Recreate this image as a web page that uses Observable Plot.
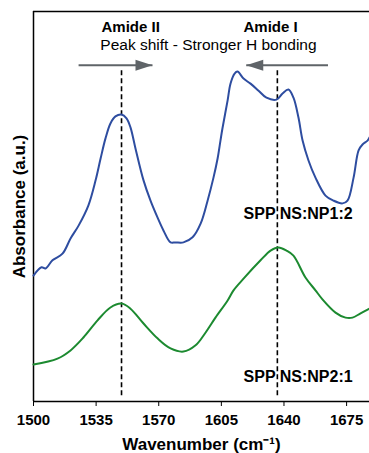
<!DOCTYPE html>
<html><head><meta charset="utf-8">
<script src="https://cdn.jsdelivr.net/npm/d3@7"></script>
<script src="https://cdn.jsdelivr.net/npm/@observablehq/plot@0.6"></script>
<style>body{margin:0;background:#fff}</style>
</head><body><div id="chart"></div>
<script>
// SPP NS:NP1:2 (blue)
const blueWn = [1500.0,1504.5,1506.7,1510.6,1516.2,1520.7,1525.2,1530.7,1534.7,1537.5,1540.2,1543.0,1545.8,1549.2,1552.0,1554.2,1557.0,1561.5,1565.4,1569.3,1572.7,1576.6,1579.4,1583.8,1588.9,1593.4,1597.3,1600.6,1602.9,1604.5,1605.6,1608.5,1610.1,1612.4,1614.0,1617.4,1621.3,1625.8,1630.2,1635.8,1639.2,1642.5,1645.3,1648.1,1650.4,1653.7,1657.6,1663.2,1667.7,1672.7,1675.5,1678.9,1681.7,1683.9,1686.7,1687.8];
const blueAbs = [0.323,0.344,0.341,0.362,0.379,0.418,0.451,0.503,0.567,0.623,0.674,0.713,0.731,0.736,0.726,0.703,0.649,0.567,0.515,0.472,0.438,0.408,0.408,0.408,0.421,0.456,0.515,0.574,0.623,0.669,0.700,0.772,0.815,0.841,0.846,0.828,0.815,0.797,0.779,0.774,0.790,0.800,0.779,0.728,0.669,0.618,0.574,0.528,0.515,0.508,0.515,0.574,0.644,0.659,0.669,0.677];
// SPP NS:NP2:1 (green)
const greenWn = [1500.0,1513.4,1520.7,1527.9,1535.8,1543.0,1549.2,1554.2,1561.5,1569.3,1576.6,1583.8,1590.6,1596.2,1601.7,1608.5,1611.8,1617.4,1626.9,1632.5,1637.0,1641.4,1645.3,1652.0,1657.6,1661.5,1668.8,1674.4,1678.3,1682.8,1687.8];
const greenAbs = [0.095,0.110,0.131,0.164,0.208,0.241,0.251,0.238,0.200,0.162,0.136,0.128,0.144,0.177,0.215,0.259,0.285,0.315,0.362,0.387,0.395,0.387,0.374,0.318,0.285,0.262,0.228,0.215,0.215,0.226,0.238];

const xTicks = [1500,1535,1570,1605,1640,1675];
const peakWn = [1549.2, 1636.3];
const peakNames = ["Amide II", "Amide I"];
const peakLabelWn = [1554.3, 1632.5];
const arrowFrom = [1525.2, 1664.6];
const arrowTo = [1566.5, 1618.9];
const arrowLevel = 0.862;
const seriesNames = ["SPP NS:NP1:2", "SPP NS:NP2:1"];
const seriesLabelWn = [1617.4, 1617.4];
const seriesLabelAbs = [0.480, 0.062];

const blue = blueWn.map((x, i) => ({x, y: blueAbs[i]}));
const green = greenWn.map((x, i) => ({x, y: greenAbs[i]}));
const peaks = peakWn.map((x, i) => ({x, name: peakNames[i], lx: peakLabelWn[i]}));
const arrows = arrowFrom.map((f, i) => ({from: f, to: arrowTo[i], y: arrowLevel, right: arrowTo[i] > f}));
const series = seriesNames.map((n, i) => ({name: n, x: seriesLabelWn[i], y: seriesLabelAbs[i]}));

const headRight = {draw(c){ c.moveTo(0,0); c.lineTo(-17,-5.5); c.lineTo(-17,5.5); c.closePath(); }};
const headLeft = {draw(c){ c.moveTo(0,0); c.lineTo(17,-5.5); c.lineTo(17,5.5); c.closePath(); }};
const arrowColor = "#5f6468";

const chart = Plot.plot({
  width: 369, height: 453,
  marginLeft: 33, marginRight: 0, marginTop: 11, marginBottom: 52,
  x: {domain: [1500, 1687.8], ticks: xTicks, tickFormat: d => String(d), tickSize: 5, tickPadding: 8, label: null},
  y: {domain: [0, 1], axis: null},
  style: {fontFamily: "'Liberation Sans', Arial, sans-serif", fontSize: "15px", fontWeight: "bold", background: "white", color: "black"},
  marks: [
    Plot.ruleY([0, 1], {stroke: "black", strokeWidth: 1.5}),
    Plot.ruleX([1500], {stroke: "black", strokeWidth: 1.5}),
    Plot.ruleX(peaks, {x: "x", y1: 0.015, y2: 0.852, stroke: "black", strokeWidth: 1.6, strokeDasharray: "5,3"}),
    Plot.line(blue, {x: "x", y: "y", stroke: "#2E4DA0", strokeWidth: 2, curve: "catmull-rom"}),
    Plot.line(green, {x: "x", y: "y", stroke: "#1C8A30", strokeWidth: 2, curve: "catmull-rom"}),
    Plot.link(arrows, {x1: "from", x2: "to", y1: "y", y2: "y", stroke: arrowColor, strokeWidth: 2}),
    Plot.dot(arrows.filter(d => d.right), {x: "to", y: "y", symbol: headRight, fill: arrowColor, stroke: "none"}),
    Plot.dot(arrows.filter(d => !d.right), {x: "to", y: "y", symbol: headLeft, fill: arrowColor, stroke: "none"}),
    Plot.text(peaks, {x: "lx", y: 0.959, text: "name", lineAnchor: "middle", fontSize: 15, fontWeight: "bold"}),
    Plot.text(["Peak shift - Stronger H bonding"], {x: 1597.8, y: 0.915, text: d => d, lineAnchor: "middle", fontSize: 15.5, fontWeight: "normal"}),
    Plot.text(series, {x: "x", y: "y", text: "name", textAnchor: "start", lineAnchor: "middle", fontSize: 16, fontWeight: "bold"}),
    Plot.text(["Wavenumber (cm⁻¹)"], {frameAnchor: "bottom", dy: 43, text: d => d, lineAnchor: "middle", textAnchor: "middle", fontSize: 17, fontWeight: "bold"}),
    Plot.text(["Absorbance (a.u.)"], {frameAnchor: "left", dx: -14, rotate: -90, text: d => d, textAnchor: "middle", lineAnchor: "middle", fontSize: 17, fontWeight: "bold"})
  ]
});
document.getElementById("chart").append(chart);
</script>
</body></html>
